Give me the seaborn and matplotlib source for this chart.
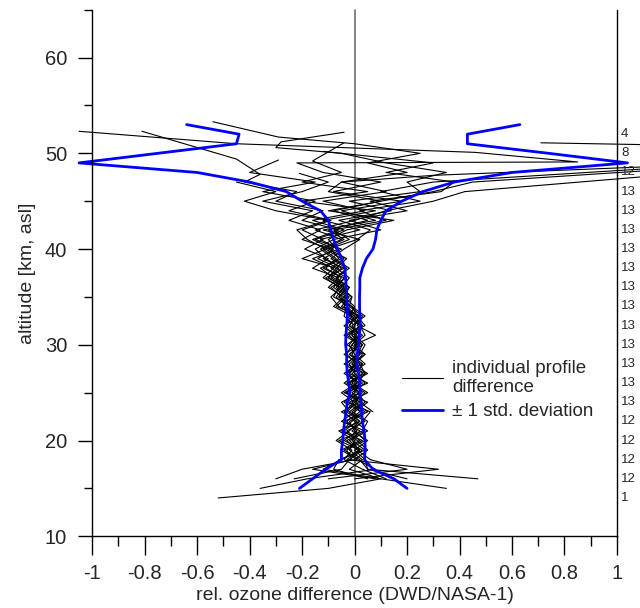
import numpy as np
import pandas as pd
import matplotlib
matplotlib.use('Agg')
import matplotlib.pyplot as plt
from matplotlib.lines import Line2D
from matplotlib.ticker import MultipleLocator, FuncFormatter
import seaborn as sns

nan = np.nan

# altitude grid (km) for the lower part of every profile
alt_grid = list(range(14, 47))

# individual profile differences (DWD/NASA-1)
p01 = [nan, nan, -0.23, -0.05, -0.02, 0.03, -0.04, 0.01, -0.03, 0.02, -0.01, 0.03, 0.00, -0.02, 0.02, -0.01, 0.01,
       -0.02, 0.02, -0.01, -0.04, -0.03, -0.08, -0.05, -0.11, -0.07, -0.12, -0.04, -0.10, 0.05, -0.08, 0.10, -0.10]
p02 = [nan, nan, 0.12, 0.03, -0.04, -0.01, -0.07, -0.02, 0.02, -0.03, 0.01, -0.02, 0.02, -0.03, 0.00, 0.03, -0.01,
       0.02, -0.02, 0.01, -0.03, -0.07, -0.04, -0.10, -0.06, -0.14, -0.08, -0.16, -0.06, -0.20, -0.12, -0.30, -0.22]
p03 = [nan, -0.36, -0.18, 0.08, 0.01, -0.05, 0.02, -0.03, 0.04, -0.02, 0.03, -0.01, 0.04, 0.00, -0.02, 0.02, 0.04,
       0.00, 0.03, -0.02, 0.00, -0.04, -0.02, -0.07, -0.03, -0.09, -0.04, 0.02, -0.12, 0.08, -0.05, 0.18, -0.08]
p04 = [nan, 0.35, 0.10, -0.12, -0.05, 0.02, -0.02, 0.05, 0.00, -0.04, 0.00, 0.04, -0.02, 0.03, -0.01, 0.04, 0.00,
       0.08, 0.01, 0.03, -0.02, -0.01, -0.05, -0.02, -0.07, -0.03, -0.10, 0.01, 0.06, -0.06, 0.14, -0.02, 0.25]
p05 = [nan, nan, 0.47, 0.05, 0.04, 0.00, 0.05, -0.01, 0.03, 0.06, -0.03, 0.02, -0.04, 0.01, 0.03, -0.02, 0.02,
       -0.01, 0.00, 0.02, -0.05, -0.02, -0.07, -0.04, -0.12, -0.05, -0.11, -0.02, -0.08, 0.12, 0.02, 0.25, 0.10]
p06 = [nan, nan, 0.20, 0.05, 0.02, -0.04, 0.03, -0.05, -0.01, 0.03, -0.04, 0.00, 0.02, -0.04, 0.01, -0.03, -0.01,
       0.03, -0.02, 0.00, -0.06, -0.09, -0.05, -0.12, -0.08, -0.16, -0.06, -0.13, 0.02, -0.12, 0.08, -0.20, 0.05]
p07 = [nan, nan, nan, nan, nan, nan, nan, nan, nan, 0.07, 0.02, -0.03, 0.01, 0.04, -0.03, 0.01, 0.03,
       -0.03, 0.04, 0.01, -0.01, -0.06, -0.03, -0.09, -0.05, -0.11, -0.15, -0.08, 0.10, -0.02, 0.20, 0.06, 0.33]
p08 = [nan, nan, -0.10, 0.20, 0.06, 0.01, -0.03, 0.04, -0.05, 0.00, 0.05, -0.04, 0.03, -0.01, 0.04, 0.00, -0.02,
       0.01, -0.03, -0.01, -0.08, -0.04, -0.10, -0.06, -0.16, -0.10, -0.19, -0.12, -0.20, -0.09, -0.25, -0.15, -0.35]
p09 = [nan, nan, 0.05, -0.08, -0.06, 0.04, -0.01, 0.02, -0.04, 0.04, -0.02, 0.05, -0.01, 0.02, -0.04, 0.02, 0.00,
       0.04, 0.02, -0.03, -0.02, -0.05, -0.09, -0.03, -0.09, -0.04, -0.07, -0.10, -0.03, 0.15, -0.10, 0.10, 0.30]
p10 = [nan, nan, -0.30, -0.20, 0.00, 0.05, 0.01, -0.04, 0.01, -0.05, 0.02, -0.03, 0.05, -0.02, 0.00, 0.04, -0.03,
       0.02, -0.01, 0.04, -0.01, -0.08, -0.06, -0.11, -0.04, -0.12, -0.05, -0.15, -0.04, -0.16, 0.04, -0.12, 0.12]
p11 = [nan, nan, 0.00, 0.32, -0.03, 0.02, -0.06, 0.03, 0.05, -0.01, 0.04, 0.01, -0.03, 0.04, 0.02, -0.04, 0.02,
       -0.04, 0.03, 0.00, -0.04, -0.01, -0.06, -0.07, -0.02, -0.08, -0.13, -0.05, -0.15, 0.00, 0.12, 0.30, 0.42]
p12 = [nan, nan, 0.08, -0.16, -0.01, -0.03, 0.04, 0.00, -0.02, 0.05, 0.00, -0.05, 0.01, -0.03, 0.03, -0.02, 0.03,
       -0.01, 0.00, -0.04, -0.03, -0.06, -0.02, -0.08, -0.13, -0.06, -0.09, -0.20, -0.13, -0.25, -0.16, -0.35, -0.20]
p13 = [-0.52, -0.10, 0.10, -0.02, 0.03, -0.02, 0.00, -0.06, 0.02, -0.02, -0.05, 0.02, -0.02, 0.05, -0.01, 0.02, 0.01,
       0.00, -0.04, 0.02, -0.07, -0.03, -0.04, -0.10, -0.07, -0.20, -0.11, -0.18, -0.22, -0.10, -0.30, -0.42, -0.30]

# upper ends of the profiles (altitude, difference)
t01_alt = [47, 48, 49, 50, 51, 51.7, 53.3]
t01_x = [-0.05, 0.20, 0.05, 0.25, 0.00, -0.29, -0.54]
t02_alt = [47, 47.8, 49.4, 52.3]
t02_x = [-0.42, -0.36, -0.45, -0.81]
t03_alt = [47, 48, 49.0, 49.1, 50.1, 51.0, 52.3]
t03_x = [0.10, -0.12, -0.22, 0.85, 0.46, -0.45, -1.05]
t04_alt = [47, 48, 49, 50, 50.6, 51.2, 52.2]
t04_x = [0.20, 0.35, 0.12, -0.05, -0.30, -0.28, -0.04]
t05_alt = [47, 48.4, 50.9, 51.1]
t05_x = [0.30, 1.12, 1.12, 0.71]
t06_alt = [47, 48, 49.2, 51.1]
t06_x = [-0.20, -0.05, -0.16, -0.04]
t07_alt = [47, 48, 49, 50.2]
t07_x = [0.38, 0.12, 0.30, -0.12]
t08_alt = [47, 48, 49.3]
t08_x = [-0.15, -0.40, -0.29]
t09_alt = [47, 48.2]
t09_x = [0.45, 1.12]
t10_alt = [47, 47.7, 48.6]
t10_x = [-0.05, 0.30, 1.12]
t11_alt = [47.6]
t11_x = [1.12]
t12_alt = [47, 47.9]
t12_x = [-0.10, -0.21]
t13_alt = [47]
t13_x = [-0.45]

# +/- 1 standard deviation
std_alt = list(range(15, 54))
std_minus = [-0.21, -0.16, -0.11, -0.05, -0.05, -0.045, -0.042, -0.038, -0.032, -0.028, -0.018, -0.022, -0.028,
             -0.03, -0.03, -0.034, -0.033, -0.03, -0.027, -0.028, -0.03, -0.032, -0.034, -0.037, -0.05, -0.066,
             -0.08, -0.09, -0.10, -0.13, -0.20, -0.26, -0.40, -0.60, -1.05, -0.75, -0.45, -0.44, -0.64]
std_plus = [0.20, 0.15, 0.07, 0.038, 0.04, 0.04, 0.036, 0.03, 0.027, 0.024, 0.02, 0.02, 0.015,
            0.008, 0.01, 0.015, 0.018, 0.022, 0.02, 0.019, 0.019, 0.02, 0.02, 0.03, 0.045, 0.07,
            0.08, 0.085, 0.10, 0.12, 0.18, 0.26, 0.38, 0.60, 1.04, 0.74, 0.43, 0.43, 0.63]

# number of profiles per altitude
count_alt = [52, 50, 48, 46, 44, 42, 40, 38, 36, 34, 32, 30, 28, 26, 24, 22, 20, 18, 16, 14]
counts = [4, 8, 12, 13, 13, 13, 13, 13, 13, 13, 13, 13, 13, 13, 13, 12, 12, 12, 12, 1]

bodies = [p01, p02, p03, p04, p05, p06, p07, p08, p09, p10, p11, p12, p13]
tops = [(t01_alt, t01_x), (t02_alt, t02_x), (t03_alt, t03_x), (t04_alt, t04_x), (t05_alt, t05_x),
        (t06_alt, t06_x), (t07_alt, t07_x), (t08_alt, t08_x), (t09_alt, t09_x), (t10_alt, t10_x),
        (t11_alt, t11_x), (t12_alt, t12_x), (t13_alt, t13_x)]

rows = []
for i, (body, (ta, tx)) in enumerate(zip(bodies, tops, strict=True)):
    for a, x in zip(alt_grid, body, strict=True):
        if not np.isnan(x):
            rows.append((i, a, x))
    for a, x in zip(ta, tx, strict=True):
        rows.append((i, a, x))
df = pd.DataFrame(rows, columns=['profile', 'alt', 'diff'])

sns.set_style('ticks')
plt.rcParams['font.family'] = ['Liberation Sans', 'DejaVu Sans']
plt.rcParams['axes.unicode_minus'] = False

fig = plt.figure(figsize=(6.4, 6.08), dpi=100)
ax = fig.add_axes([0.144, 0.118, 0.820, 0.866])

ax.axvline(0, color='#707070', lw=1.2, zorder=1)
sns.lineplot(data=df, x='diff', y='alt', units='profile', estimator=None, sort=False,
             color='black', lw=0.8, ax=ax, legend=False)
sns.lineplot(x=std_minus, y=std_alt, estimator=None, sort=False, color='#0000ff', lw=2, ax=ax)
sns.lineplot(x=std_plus, y=std_alt, estimator=None, sort=False, color='#0000ff', lw=2, ax=ax)
for ln in ax.lines:
    ln.set_clip_on(False)

ax.set_xlim(-1, 1)
ax.set_ylim(10, 65)
ax.xaxis.set_major_locator(MultipleLocator(0.2))
ax.xaxis.set_minor_locator(MultipleLocator(0.1))
ax.yaxis.set_major_locator(MultipleLocator(10))
ax.yaxis.set_minor_locator(MultipleLocator(5))
ax.xaxis.set_major_formatter(FuncFormatter(lambda v, p: f'{round(v, 1) + 0:g}'))
ax.tick_params(which='both', direction='out', width=1, labelsize=14.5, color='black')
ax.tick_params(axis='x', which='major', length=14, pad=6)
ax.tick_params(axis='x', which='minor', length=7)
ax.tick_params(axis='y', which='major', length=10, pad=8)
ax.tick_params(axis='y', which='minor', length=5.5)

for s in ['left', 'bottom', 'right']:
    ax.spines[s].set_color('black')
    ax.spines[s].set_linewidth(1)
ax.spines['top'].set_visible(False)

ax.set_xlabel('rel. ozone difference (DWD/NASA-1)', fontsize=14, labelpad=3)
ax.set_ylabel('altitude [km, asl]', fontsize=14, labelpad=6)

for a, c in zip(count_alt, counts):
    ax.text(1.008, a, str(c), transform=ax.get_yaxis_transform(), fontsize=9.5,
            ha='left', va='center')

handles = [Line2D([], [], color='black', lw=0.8), Line2D([], [], color='#0000ff', lw=2)]
ax.legend(handles, ['individual profile\ndifference', '\u00b1 1 std. deviation'],
          loc='upper left', bbox_to_anchor=(0.59, 0.335), frameon=False, fontsize=13.5,
          handlelength=2.2, handletextpad=0.5, borderpad=0, borderaxespad=0, labelspacing=0.35)

fig.savefig('out.png', dpi=100)
